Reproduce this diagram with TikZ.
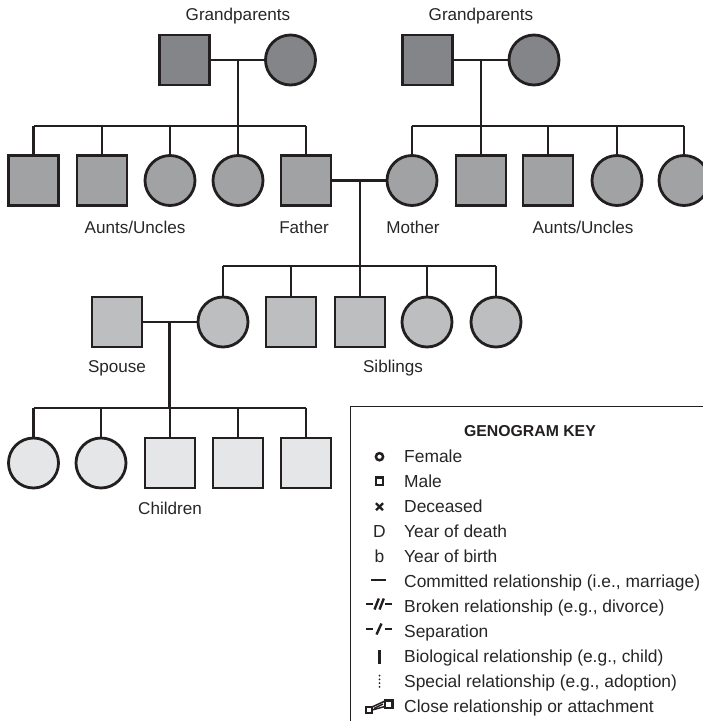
\documentclass[tikz,border=0pt]{standalone}
\usepackage{fontspec}
\setmainfont{Liberation Sans}
\begin{document}
\definecolor{ink}{HTML}{231F20}
\definecolor{gen1}{HTML}{848588}
\definecolor{gen2}{HTML}{A1A2A4}
\definecolor{gen3}{HTML}{BDBEC0}
\definecolor{gen4}{HTML}{E5E6E7}
\definecolor{txt}{HTML}{262626}
\tikzset{
  person/.style={draw=ink, line width=2.8pt, inner sep=0pt},
  male/.style={person, rectangle, minimum size=50pt},
  female/.style={person, circle, minimum size=50pt},
  link/.style={draw=ink, line width=2.1pt},
  lbl/.style={text=txt, font=\fontsize{17.1}{19}\selectfont, inner sep=0pt},
  keytext/.style={text=txt, font=\fontsize{17.4}{19}\selectfont, inner sep=0pt, anchor=base west},
  keysym/.style={draw=ink, line width=2.2pt},
}
\begin{tikzpicture}[x=1pt, y=-1pt]
\useasboundingbox (0,0) rectangle (703,721);

% --- grandparents ---
\node[male, fill=gen1]   (gpa1) at (184.5,60) {};
\node[female, fill=gen1] (gma1) at (290.5,60) {};
\node[male, fill=gen1]   (gpa2) at (427.5,60) {};
\node[female, fill=gen1] (gma2) at (534,60) {};
\node[lbl] (lgp1) at (238,16) {Grandparents};
\node[lbl] (lgp2) at (481,16) {Grandparents};

% --- parents' generation ---
\node[male, fill=gen2]   (au1) at (33.5,180.5) {};
\node[male, fill=gen2]   (au2) at (102,180.5) {};
\node[female, fill=gen2] (au3) at (170,180.5) {};
\node[female, fill=gen2] (au4) at (238,180.5) {};
\node[male, fill=gen2]   (father) at (306,180.5) {};
\node[female, fill=gen2] (mother) at (412,180.5) {};
\node[male, fill=gen2]   (au5) at (481,180.5) {};
\node[male, fill=gen2]   (au6) at (548,180.5) {};
\node[female, fill=gen2] (au7) at (617,180.5) {};
\node[female, fill=gen2] (au8) at (684,180.5) {};
\node[lbl] (lau1) at (135,227) {Aunts/Uncles};
\node[lbl] (lfa) at (304,227) {Father};
\node[lbl] (lmo) at (413,227) {Mother};
\node[lbl] (lau2) at (583,227) {Aunts/Uncles};

% --- own generation ---
\node[male, fill=gen3]   (spouse) at (117,322) {};
\node[female, fill=gen3] (self) at (223,322) {};
\node[male, fill=gen3]   (sib1) at (291,322) {};
\node[male, fill=gen3]   (sib2) at (360,322) {};
\node[female, fill=gen3] (sib3) at (427,322) {};
\node[female, fill=gen3] (sib4) at (496,322) {};
\node[lbl] (lsp) at (117,368) {Spouse};
\node[lbl] (lsib) at (393,368) {Siblings};

% --- children ---
\node[female, fill=gen4] (ch1) at (33.5,463) {};
\node[female, fill=gen4] (ch2) at (101,463) {};
\node[male, fill=gen4]   (ch3) at (170,463) {};
\node[male, fill=gen4]   (ch4) at (238,463) {};
\node[male, fill=gen4]   (ch5) at (306,463) {};
\node[lbl] (lch) at (170,508) {Children};

% --- junction points ---
\coordinate (m1) at (238,60);
\coordinate (bar1) at (238,126);
\coordinate (m2) at (481,60);
\coordinate (bar2) at (481,126);
\coordinate (m3) at (360,180.5);
\coordinate (bar3) at (360,266);
\coordinate (m4) at (169.5,322);
\coordinate (bar4) at (169.5,408);

% --- marriages and descent lines ---
\draw[link] (gpa1.east) -- (gma1.west);
\draw[link] (m1) -- (bar1);
\draw[link] (au1 |- bar1) -- (father |- bar1);
\foreach \k in {au1,au2,au3,au4,father}
  \draw[link] (\k.north) -- (\k |- bar1);

\draw[link] (gpa2.east) -- (gma2.west);
\draw[link] (m2) -- (bar2);
\draw[link] (mother |- bar2) -- (au8 |- bar2);
\foreach \k in {mother,au5,au6,au7,au8}
  \draw[link] (\k.north) -- (\k |- bar2);

\draw[link] (father.east) -- (mother.west);
\draw[link] (m3) -- (bar3);
\draw[link] (self |- bar3) -- (sib4 |- bar3);
\foreach \k in {self,sib1,sib2,sib3,sib4}
  \draw[link] (\k.north) -- (\k |- bar3);

\draw[link] (spouse.east) -- (self.west);
\draw[link] (m4) -- (bar4);
\draw[link] (ch1 |- bar4) -- (ch5 |- bar4);
\foreach \k in {ch1,ch2,ch3,ch4,ch5}
  \draw[link] (\k.north) -- (\k |- bar4);

% --- key box ---
\draw[draw=ink, line width=1.2pt, fill=white] (350.5,406.5) rectangle (712,730);
\node[text=ink, font=\bfseries\fontsize{15.8}{17}\selectfont, inner sep=0pt] (ktitle) at (530,431) {GENOGRAM KEY};

% text column
\node[keytext] (k1) at (404,462.7) {Female};
\node[keytext] (k2) at (404,487) {Male};
\node[keytext] (k3) at (404,512.7) {Deceased};
\node[keytext] (k4) at (404,537.7) {Year of death};
\node[keytext] (k5) at (404,562) {Year of birth};
\node[keytext] (k6) at (404,587.7) {Committed relationship (i.e., marriage)};
\node[keytext] (k7) at (404,612) {Broken relationship (e.g., divorce)};
\node[keytext] (k8) at (404,637) {Separation};
\node[keytext] (k9) at (404,662.7) {Biological relationship (e.g., child)};
\node[keytext] (k10) at (404,687.7) {Special relationship (e.g., adoption)};
\node[keytext] (k11) at (404,712) {Close relationship or attachment};

% symbol column
\draw[keysym, line width=2.5pt] (379.5,456.7) circle (3.6);
\draw[keysym, line width=2.4pt] (375.8,477.3) rectangle (383.2,484.7);
\draw[keysym, line width=2.3pt] (376,503.2) -- (383,510.2) (376,510.2) -- (383,503.2);
\node[keytext, anchor=base] (kD) at (379.5,537.7) {D};
\node[keytext, anchor=base] (kb) at (379.5,562) {b};
\draw[keysym, line width=2.6pt] (371,580) -- (386,580);
% broken: dash, two slashes, dash
\draw[keysym, line width=2.5pt] (366,604) -- (372.5,604) (385,604) -- (391.5,604);
\draw[keysym, line width=2.4pt] (374.5,609.5) -- (378.8,598.5) (379.5,609.5) -- (383.8,598.5);
% separation: dash, slash, dash
\draw[keysym, line width=2.5pt] (366,629) -- (373,629) (385,629) -- (392,629);
\draw[keysym, line width=2.4pt] (376.5,634.5) -- (381.5,623.5);
\draw[keysym, line width=2.8pt] (379.5,650) -- (379.5,664);
\draw[keysym, line width=2pt, line cap=round, dash pattern=on 0pt off 3.8pt] (379.5,675.5) -- (379.5,689);
% close relationship: two boxes joined by a wedge
\draw[keysym, line width=2pt] (366,707) rectangle (372,713);
\draw[keysym, line width=2.2pt] (385,700.5) rectangle (392.5,708);
\draw[keysym, line width=1.5pt] (372,707) -- (385,701) (372,710) -- (385,706.5);
\draw[keysym, line width=1.5pt] (374,708.5) -- (383,704);
\end{tikzpicture}
\end{document}
